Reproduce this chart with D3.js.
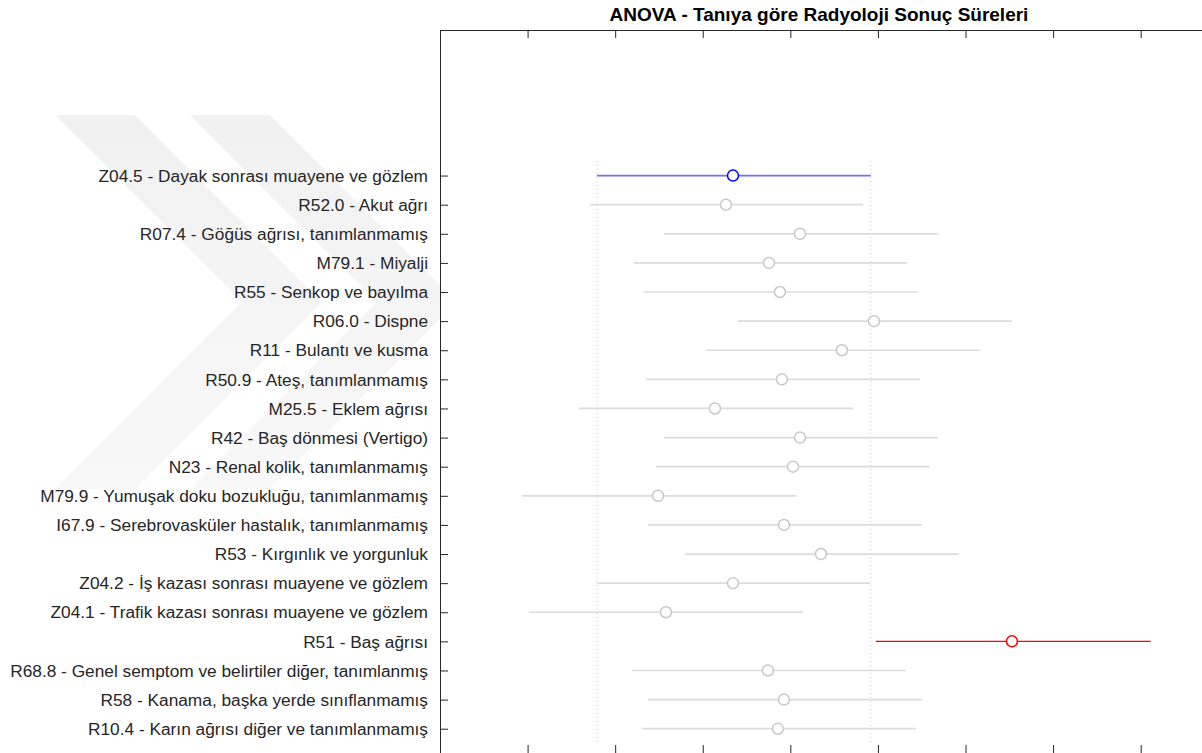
<!DOCTYPE html>
<html>
<head>
<meta charset="utf-8">
<script src="https://cdn.jsdelivr.net/npm/d3@7"></script>
<style>
  body { margin: 0; background: #fff; }
  svg { display: block; }
</style>
</head>
<body>
<svg id="chart" width="1202" height="753"></svg>
<script>
"use strict";

// Groups, top to bottom
var groups = [
    "Z04.5 - Dayak sonrası muayene ve gözlem",
    "R52.0 - Akut ağrı",
    "R07.4 - Göğüs ağrısı, tanımlanmamış",
    "M79.1 - Miyalji",
    "R55 - Senkop ve bayılma",
    "R06.0 - Dispne",
    "R11 - Bulantı ve kusma",
    "R50.9 - Ateş, tanımlanmamış",
    "M25.5 - Eklem ağrısı",
    "R42 - Baş dönmesi (Vertigo)",
    "N23 - Renal kolik, tanımlanmamış",
    "M79.9 - Yumuşak doku bozukluğu, tanımlanmamış",
    "I67.9 - Serebrovasküler hastalık, tanımlanmamış",
    "R53 - Kırgınlık ve yorgunluk",
    "Z04.2 - İş kazası sonrası muayene ve gözlem",
    "Z04.1 - Trafik kazası sonrası muayene ve gözlem",
    "R51 - Baş ağrısı",
    "R68.8 - Genel semptom ve belirtiler diğer, tanımlanmış",
    "R58 - Kanama, başka yerde sınıflanmamış",
    "R10.4 - Karın ağrısı diğer ve tanımlanmamış"
];

// Group means and comparison interval ends (tick labels are not shown in the picture)
var means = [33.45, 32.65, 41.10, 37.56, 38.81, 49.54, 45.89, 39.04, 31.39, 41.10,
             40.30, 24.89, 39.27, 43.49, 33.45, 25.80, 65.30, 37.44, 39.27, 38.58];
var lower = [17.92, 17.12, 25.57, 22.15, 23.29, 34.02, 30.37, 23.52, 15.87, 25.57,
             24.66, 9.36, 23.74, 27.97, 17.92, 10.16, 49.77, 21.92, 23.74, 23.06];
var upper = [49.20, 48.29, 56.85, 53.31, 54.57, 65.30, 61.64, 54.79, 47.15, 56.85,
             55.94, 40.75, 55.02, 59.25, 49.09, 41.44, 81.16, 53.20, 55.02, 54.34];

var xTicks = [10, 20, 30, 40, 50, 60, 70, 80];

var selected = 0;          // blue group
var different = [16];      // red groups

var svg = d3.select("#chart");
var axisColor = "#262626";

var x = d3.scaleLinear().domain([0, 87]).range([440, 1202]);
var y = d3.scaleLinear().domain([-4, 20.8]).range([30, 752]);

var plotTop = y(-4);
var plotBottom = 753;
var plotLeft = x(0);

// faint watermark chevrons, left of the axes
var grad = svg.append("defs").append("linearGradient")
    .attr("id", "wm")
    .attr("x1", 0).attr("y1", 0).attr("x2", 0).attr("y2", 1)
;
grad.append("stop").attr("offset", "0%").attr("stop-color", "#f1f1f1");
grad.append("stop").attr("offset", "100%").attr("stop-color", "#f8f8f8");

var chevrons = [0, 135];
chevrons.forEach(function(dx) {
    var pts = [[55, 115], [135, 115], [322, 302], [135, 489], [55, 489], [242, 302]]
        .map(function(p) { return [p[0] + dx, p[1]]; });
    svg.append("polygon")
        .attr("points", pts.map(function(p) { return p.join(","); }).join(" "))
        .style("fill", "url(#wm)")
    ;
});

// white plot area over watermark
svg.append("rect")
    .attr("x", plotLeft)
    .attr("y", plotTop)
    .attr("width", 1202 - plotLeft)
    .attr("height", plotBottom - plotTop)
    .style("fill", "#fff")
;

// dotted lines at the selected group's interval
[lower[selected], upper[selected]].forEach(function(v) {
    svg.append("line")
        .attr("x1", x(v)).attr("x2", x(v))
        .attr("y1", y(0.5)).attr("y2", y(20.5))
        .style("stroke", "#c8c8c8")
        .style("stroke-width", 1)
        .style("stroke-dasharray", "1,3")
    ;
});

function colorOf(i, line) {
    if (i === selected) return line ? "#6f6fff" : "#0000ff";
    if (different.indexOf(i) >= 0) return "#ff0000";
    return line ? "#dcdcdc" : "#c8c8c8";
}

var rows = svg.append("g")
    .selectAll("g")
    .data(groups)
    .enter()
    .append("g")
;

rows.append("line")
    .attr("x1", function(d, i) { return x(lower[i]); })
    .attr("x2", function(d, i) { return x(upper[i]); })
    .attr("y1", function(d, i) { return y(i + 1); })
    .attr("y2", function(d, i) { return y(i + 1); })
    .style("stroke", function(d, i) { return colorOf(i, true); })
    .style("stroke-width", function(d, i) { return different.indexOf(i) >= 0 ? 1.3 : 1.7; })
;

rows.append("circle")
    .attr("cx", function(d, i) { return x(means[i]); })
    .attr("cy", function(d, i) { return y(i + 1); })
    .attr("r", 5.5)
    .style("fill", "#fff")
    .style("stroke", function(d, i) { return colorOf(i, false); })
    .style("stroke-width", 1.5)
;

// axes box (top and left), ticks inward
var yAxis = d3.axisRight(y)
    .tickValues(d3.range(1, groups.length + 1))
    .tickSize(8)
    .tickFormat("")
;
var gy = svg.append("g")
    .attr("transform", "translate(" + plotLeft + ",0)")
    .call(yAxis)
;
gy.select(".domain").remove();

var xTop = d3.axisBottom(x).tickValues(xTicks).tickSize(8).tickFormat("");
var gxt = svg.append("g").attr("transform", "translate(0," + plotTop + ")").call(xTop);
gxt.select(".domain").remove();

var xBot = d3.axisTop(x).tickValues(xTicks).tickSize(8).tickFormat("");
var gxb = svg.append("g").attr("transform", "translate(0," + plotBottom + ")").call(xBot);
gxb.select(".domain").remove();

svg.selectAll(".tick line").style("stroke", axisColor);

svg.append("line")
    .attr("x1", plotLeft).attr("x2", 1202)
    .attr("y1", plotTop + 0.5).attr("y2", plotTop + 0.5)
    .style("stroke", axisColor)
;
svg.append("line")
    .attr("x1", plotLeft + 0.5).attr("x2", plotLeft + 0.5)
    .attr("y1", plotTop).attr("y2", plotBottom)
    .style("stroke", axisColor)
;

// group labels
svg.append("g")
    .selectAll("text")
    .data(groups)
    .enter()
    .append("text")
    .attr("x", 428)
    .attr("y", function(d, i) { return y(i + 1); })
    .attr("dy", "0.36em")
    .attr("text-anchor", "end")
    .style("font-family", "'Liberation Sans', Arial, sans-serif")
    .style("font-size", "17.3px")
    .style("fill", axisColor)
    .text(function(d) { return d; })
;

// title
svg.append("text")
    .attr("x", 819)
    .attr("y", 21)
    .attr("text-anchor", "middle")
    .style("font-family", "'Liberation Sans', Arial, sans-serif")
    .style("font-size", "19px")
    .style("font-weight", "bold")
    .style("fill", "#000")
    .text("ANOVA - Tanıya göre Radyoloji Sonuç Süreleri")
;
</script>
</body>
</html>
